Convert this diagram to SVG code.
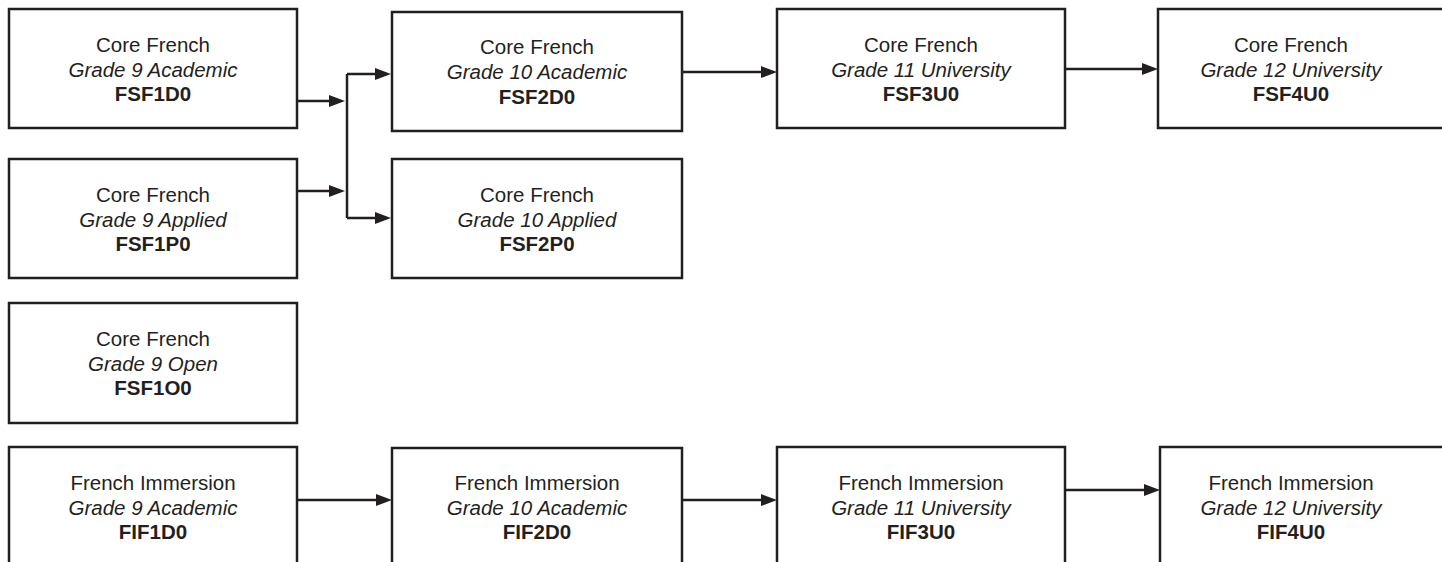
<svg xmlns="http://www.w3.org/2000/svg" width="1442" height="562" viewBox="0 0 1442 562">
<style>
.box{fill:#fff;stroke:#231f20;stroke-width:2.5}
.t{font-family:"Liberation Sans",Arial,sans-serif;font-size:20.5px;fill:#231f20;text-anchor:middle}
.i{font-style:italic}
.b{font-weight:bold}
.c{fill:none;stroke:#231f20;stroke-width:2.5}
</style>
<defs>
<marker id="ah" markerUnits="userSpaceOnUse" viewBox="0 0 16 12" refX="10" refY="6" markerWidth="16" markerHeight="12" orient="auto">
<path d="M0,0 L16,6 L0,12 z" fill="#231f20"/>
</marker>
</defs>
<rect width="1442" height="562" fill="#fff"/>
<g id="connectors">
<path class="c" d="M297,101 H339" marker-end="url(#ah)"/>
<path class="c" d="M297,191 H339" marker-end="url(#ah)"/>
<path class="c" d="M347,74 V218"/>
<path class="c" d="M347,74 H385" marker-end="url(#ah)"/>
<path class="c" d="M347,218 H385" marker-end="url(#ah)"/>
<path class="c" d="M682,72 H771" marker-end="url(#ah)"/>
<path class="c" d="M1065,69 H1152" marker-end="url(#ah)"/>
<path class="c" d="M297,500 H386" marker-end="url(#ah)"/>
<path class="c" d="M682,500 H771" marker-end="url(#ah)"/>
<path class="c" d="M1065,490 H1154" marker-end="url(#ah)"/>
</g>
<g id="FSF1D0">
<rect class="box" x="9" y="9" width="288" height="119"/>
<text class="t" x="153" y="52">Core French</text>
<text class="t i" x="153" y="76.5">Grade 9 Academic</text>
<text class="t b" x="153" y="101">FSF1D0</text>
</g>
<g id="FSF2D0">
<rect class="box" x="392" y="12" width="290" height="119"/>
<text class="t" x="537" y="54">Core French</text>
<text class="t i" x="537" y="79">Grade 10 Academic</text>
<text class="t b" x="537" y="104">FSF2D0</text>
</g>
<g id="FSF3U0">
<rect class="box" x="777" y="9" width="288" height="119"/>
<text class="t" x="921" y="52">Core French</text>
<text class="t i" x="921" y="76.5">Grade 11 University</text>
<text class="t b" x="921" y="101">FSF3U0</text>
</g>
<g id="FSF4U0">
<rect class="box" x="1158" y="9" width="300" height="119"/>
<text class="t" x="1291" y="52">Core French</text>
<text class="t i" x="1291" y="76.5">Grade 12 University</text>
<text class="t b" x="1291" y="101">FSF4U0</text>
</g>
<g id="FSF1P0">
<rect class="box" x="9" y="159" width="288" height="119"/>
<text class="t" x="153" y="202">Core French</text>
<text class="t i" x="153" y="226.5">Grade 9 Applied</text>
<text class="t b" x="153" y="251">FSF1P0</text>
</g>
<g id="FSF2P0">
<rect class="box" x="392" y="159" width="290" height="119"/>
<text class="t" x="537" y="202">Core French</text>
<text class="t i" x="537" y="226.5">Grade 10 Applied</text>
<text class="t b" x="537" y="251">FSF2P0</text>
</g>
<g id="FSF1O0">
<rect class="box" x="9" y="303" width="288" height="120"/>
<text class="t" x="153" y="346">Core French</text>
<text class="t i" x="153" y="370.5">Grade 9 Open</text>
<text class="t b" x="153" y="395">FSF1O0</text>
</g>
<g id="FIF1D0">
<rect class="box" x="9" y="447" width="288" height="130"/>
<text class="t" x="153" y="490">French Immersion</text>
<text class="t i" x="153" y="514.5">Grade 9 Academic</text>
<text class="t b" x="153" y="539">FIF1D0</text>
</g>
<g id="FIF2D0">
<rect class="box" x="392" y="448" width="290" height="130"/>
<text class="t" x="537" y="490">French Immersion</text>
<text class="t i" x="537" y="514.5">Grade 10 Academic</text>
<text class="t b" x="537" y="539">FIF2D0</text>
</g>
<g id="FIF3U0">
<rect class="box" x="777" y="447" width="288" height="130"/>
<text class="t" x="921" y="490">French Immersion</text>
<text class="t i" x="921" y="514.5">Grade 11 University</text>
<text class="t b" x="921" y="539">FIF3U0</text>
</g>
<g id="FIF4U0">
<rect class="box" x="1160" y="447" width="300" height="130"/>
<text class="t" x="1291" y="490">French Immersion</text>
<text class="t i" x="1291" y="514.5">Grade 12 University</text>
<text class="t b" x="1291" y="539">FIF4U0</text>
</g>
</svg>
